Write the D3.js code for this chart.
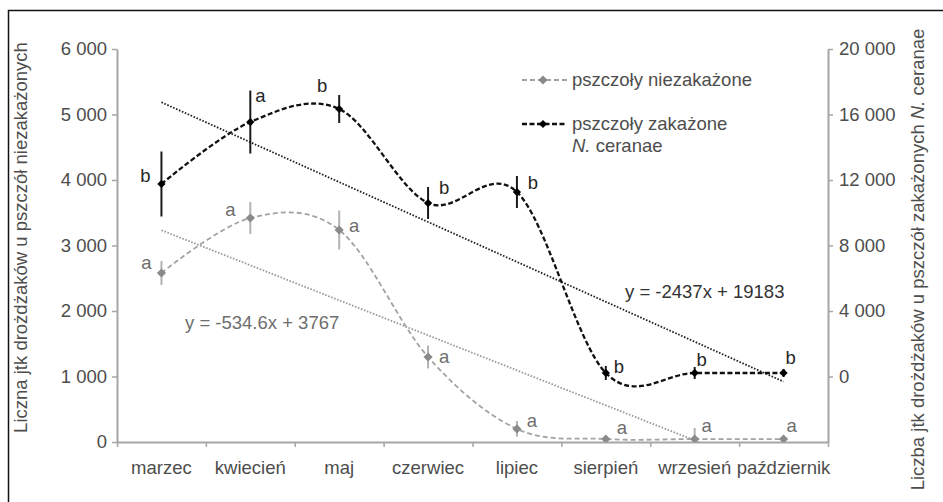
<!DOCTYPE html>
<html>
  <head>
    <meta charset="UTF-8">
    <title>Drożdżaki u pszczół</title>
    <style>
      * { margin: 0; padding: 0; overflow: hidden; }
      body { background: #fff; }
      text { font-family: "Liberation Sans", Arial, sans-serif; }
    </style>
    <script src="https://d3js.org/d3.v7.min.js"></script>
  </head>
  <body>
    <script type="text/javascript">
      // dane
      const months = ["marzec", "kwiecień", "maj", "czerwiec", "lipiec", "sierpień", "wrzesień", "październik"];
      const uninfectedMean = [2580, 3420, 3237, 1298, 200, 45, 45, 45];
      const uninfectedErr = [183, 244, 298, 175, 120, 40, 170, 40];
      const infectedMean = [11756, 15540, 16336, 10595, 11267, 214, 214, 214];
      const infectedErr = [1985, 1924, 855, 977, 977, 430, 370, 245];
      const uninfectedLetters = ["a", "a", "a", "a", "a", "a", "a", "a"];
      const infectedLetters = ["b", "a", "b", "b", "b", "b", "b", "b"];
      // trend: [nachylenie, wyraz wolny]
      const uninfectedTrend = [-534.6, 3767];
      const infectedTrend = [-2437, 19183];
      const leftTicks = [0, 1000, 2000, 3000, 4000, 5000, 6000];
      const rightTicks = [0, 4000, 8000, 12000, 16000, 20000];

      // położenie liter względem punktu
      const uninfectedLabelOffset = [[-15, -10], [-20, -8], [15, -4], [16, 0], [15, -8], [16, -12], [12, -14], [8, -14]];
      const infectedLabelOffset = [[-16, -8], [10, -27], [-17, -23], [16, -15], [16, -9], [13, -6], [7, -13], [7, -15]];

      const WIDTH = 943, HEIGHT = 502;
      const LEFT = 117, RIGHT = 828, TOP = 49, BOTTOM = 442;
      const FS = "18.5px";
      const TXT = "#4d4d4d";
      const AXIS = "#a6a6a6";

      const pl = d3.formatLocale({ decimal: ",", thousands: " ", grouping: [3], currency: ["", ""] });
      const fmt = pl.format(",d");

      const svg = d3.select("body").append("svg")
        .attr("width", WIDTH).attr("height", HEIGHT);

      svg.append("rect")
        .attr("x", 8.5).attr("y", 10.5)
        .attr("width", 960).attr("height", 520)
        .attr("fill", "none").attr("stroke", "#111").attr("stroke-width", 1.5);

      const x = d3.scaleBand().domain(months).range([LEFT, RIGHT]);
      const cx = (i) => x(months[i]) + x.bandwidth() / 2;
      const xEdge = d3.scaleLinear().domain([0, months.length]).range([LEFT, RIGHT]);
      const yL = d3.scaleLinear().domain([0, 6000]).range([BOTTOM, TOP]);
      const yR = d3.scaleLinear().domain([-4000, 20000]).range([BOTTOM, TOP]);

      const styleAxis = (g) => {
        g.select(".domain").attr("stroke", AXIS).attr("stroke-width", 2);
        g.selectAll(".tick line").attr("stroke", AXIS).attr("stroke-width", 1.5);
        g.selectAll(".tick text").attr("fill", TXT).style("font-size", FS);
      };

      svg.append("g")
        .attr("transform", `translate(${LEFT},0)`)
        .call(d3.axisLeft(yL).tickValues(leftTicks).tickFormat(fmt).tickSize(5).tickSizeOuter(0).tickPadding(5))
        .call(styleAxis);

      svg.append("g")
        .attr("transform", `translate(${RIGHT},0)`)
        .call(d3.axisRight(yR).tickValues(rightTicks).tickFormat(fmt).tickSize(5).tickSizeOuter(0).tickPadding(6))
        .call(styleAxis);

      svg.append("g")
        .attr("transform", `translate(0,${BOTTOM})`)
        .call(d3.axisBottom(xEdge).tickValues(d3.range(0, months.length + 1)).tickFormat("").tickSize(5).tickSizeOuter(0))
        .call(styleAxis);

      const xl = svg.append("g")
        .attr("transform", `translate(0,${BOTTOM})`)
        .call(d3.axisBottom(x).tickSize(0).tickPadding(19))
        .call(styleAxis);
      xl.select(".domain").remove();

      // tytuły osi
      svg.append("text")
        .attr("transform", `translate(27,${(TOP + BOTTOM) / 2 - 8}) rotate(-90)`)
        .attr("text-anchor", "middle")
        .attr("fill", TXT).style("font-size", FS)
        .text("Liczna jtk drożdżaków u pszczół niezakażonych");

      const rt = svg.append("text")
        .attr("transform", `translate(924,${(TOP + BOTTOM) / 2 + 14}) rotate(-90)`)
        .attr("text-anchor", "middle")
        .attr("fill", TXT).style("font-size", FS);
      rt.append("tspan").text("Liczba jtk drożdżaków u pszczół zakażonych ");
      rt.append("tspan").attr("font-style", "italic").text("N.");
      rt.append("tspan").text(" ceranae");

      // linie trendu
      svg.append("clipPath").attr("id", "plot")
        .append("rect").attr("x", LEFT).attr("y", TOP).attr("width", RIGHT - LEFT).attr("height", BOTTOM - TOP);

      const trendLine = (coef, y) => d3.line()
        .x((d) => cx(d))
        .y((d) => y(coef[0] * (d + 1) + coef[1]))(d3.range(months.length));

      svg.append("path")
        .attr("d", trendLine(uninfectedTrend, yL))
        .attr("clip-path", "url(#plot)")
        .attr("fill", "none").attr("stroke", "#9a9a9a").attr("stroke-width", 1.8)
        .attr("stroke-dasharray", "1.6,1.6");

      svg.append("path")
        .attr("d", trendLine(infectedTrend, yR))
        .attr("clip-path", "url(#plot)")
        .attr("fill", "none").attr("stroke", "#222").attr("stroke-width", 1.8)
        .attr("stroke-dasharray", "1.6,1.6");

      const eq = (c) => `y = ${c[0]}x + ${c[1]}`;
      svg.append("text")
        .attr("x", 625).attr("y", 298)
        .attr("fill", "#333").style("font-size", FS)
        .text(eq(infectedTrend));
      svg.append("text")
        .attr("x", 185).attr("y", 329)
        .attr("fill", "#6e6e6e").style("font-size", FS)
        .text(eq(uninfectedTrend));

      const curve = d3.line()
        .x((d, i) => cx(i))
        .curve(d3.curveCardinal.tension(0));

      const series = [
        { mean: uninfectedMean, err: uninfectedErr, letters: uninfectedLetters, off: uninfectedLabelOffset,
          y: yL, line: "#a3a3a3", mark: "#8a8a8a", bar: "#b3b3b3", txt: "#6e6e6e", lw: 1.8, dash: "5,3", size: 42 },
        { mean: infectedMean, err: infectedErr, letters: infectedLetters, off: infectedLabelOffset,
          y: yR, line: "#111", mark: "#000", bar: "#1a1a1a", txt: "#262626", lw: 2.3, dash: "5,2.5", size: 34 }
      ];

      series.forEach((s) => {
        const g = svg.append("g").attr("clip-path", "url(#plot)");
        g.append("path")
          .attr("d", curve.y((d) => s.y(d))(s.mean))
          .attr("fill", "none").attr("stroke", s.line).attr("stroke-width", s.lw)
          .attr("stroke-dasharray", s.dash);

        g.selectAll(".err").data(s.mean).enter().append("line")
          .attr("x1", (d, i) => cx(i)).attr("x2", (d, i) => cx(i))
          .attr("y1", (d, i) => s.y(d - s.err[i]))
          .attr("y2", (d, i) => s.y(d + s.err[i]))
          .attr("stroke", s.bar).attr("stroke-width", 2);

        g.selectAll(".pt").data(s.mean).enter().append("path")
          .attr("d", d3.symbol(d3.symbolSquare, s.size))
          .attr("transform", (d, i) => `translate(${cx(i)},${s.y(d)}) rotate(45)`)
          .attr("fill", s.mark);

        svg.selectAll(null).data(s.mean).enter().append("text")
          .attr("x", (d, i) => cx(i) + s.off[i][0])
          .attr("y", (d, i) => s.y(d) + s.off[i][1])
          .attr("dy", "0.35em")
          .attr("text-anchor", "middle")
          .attr("fill", s.txt).style("font-size", FS)
          .text((d, i) => s.letters[i]);
      });

      // legenda
      const legend = [
        { label: "pszczoły niezakażone", y: 80, s: series[0] },
        { label: "pszczoły zakażone", y: 124, s: series[1] }
      ];
      legend.forEach((l) => {
        svg.append("line")
          .attr("x1", 522).attr("x2", 567).attr("y1", l.y).attr("y2", l.y)
          .attr("stroke", l.s.line).attr("stroke-width", l.s.lw).attr("stroke-dasharray", l.s.dash);
        svg.append("path")
          .attr("d", d3.symbol(d3.symbolSquare, l.s.size))
          .attr("transform", `translate(543,${l.y}) rotate(45)`)
          .attr("fill", l.s.mark);
        svg.append("text")
          .attr("x", 572).attr("y", l.y).attr("dy", "0.35em")
          .attr("fill", TXT).style("font-size", FS)
          .text(l.label);
      });
      const nc = svg.append("text")
        .attr("x", 572).attr("y", 146).attr("dy", "0.35em")
        .attr("fill", TXT).style("font-size", FS);
      nc.append("tspan").attr("font-style", "italic").text("N.");
      nc.append("tspan").text(" ceranae");
    </script>
  </body>
</html>
